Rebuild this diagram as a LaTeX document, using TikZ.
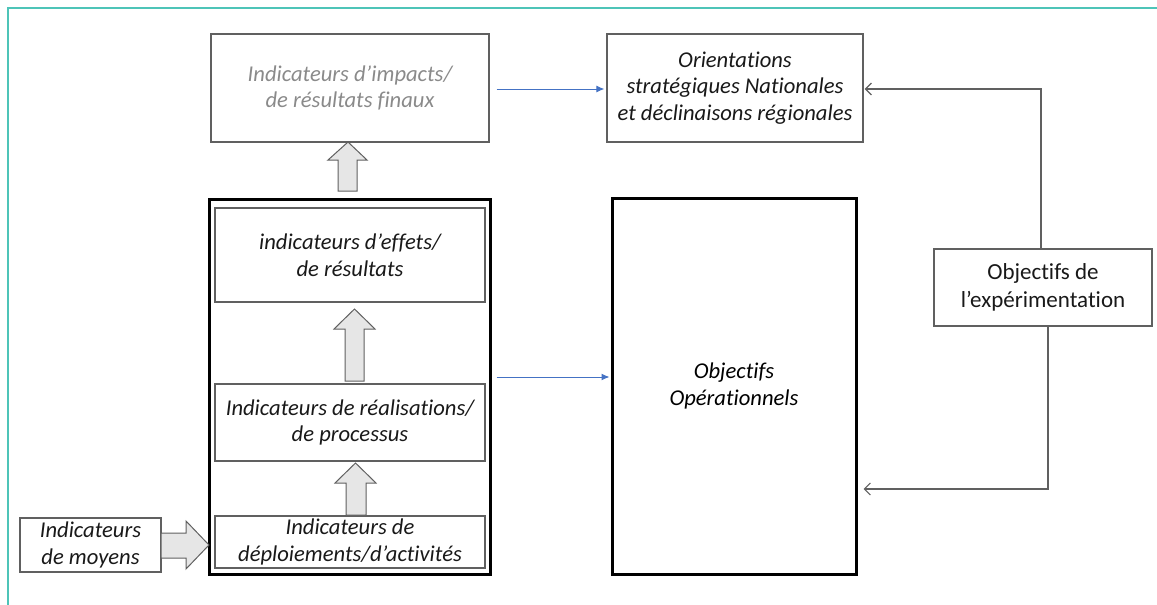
\documentclass[tikz,border=0pt]{standalone}
\usepackage{fontspec}
\setmainfont{Carlito}[Ligatures={NoCommon}]
\usetikzlibrary{arrows.meta,calc}
\definecolor{bordc}{HTML}{4DC4B8}
\definecolor{boxline}{HTML}{606060}
\definecolor{blueln}{HTML}{4472C4}
\definecolor{graytxt}{HTML}{8A8A8A}
\definecolor{blkfill}{HTML}{E6E6E6}
\tikzset{
  box/.style={draw=boxline, line width=1.2pt, inner sep=0pt, align=center,
    font=\itshape\fontsize{22.6}{26.5}\selectfont, text=black!90},
  thickbox/.style={draw=black, line width=3pt, inner sep=0pt},
  blueline/.style={draw=blueln, line width=1pt, -{Latex[length=8pt,width=7pt]}},
  grayline/.style={draw=boxline, line width=1.2pt, -{Straight Barb[length=6pt,width=12pt]}},
  blk/.style={draw=boxline, fill=blkfill, line width=1pt, line join=miter}
}
\begin{document}
\begin{tikzpicture}[x=1pt,y=-1pt]
\useasboundingbox (0,0) rectangle (1157,605);
\draw[bordc, line width=2pt] (8,605) -- (8,8) -- (1157,8);

\node[box, text=graytxt, minimum width=278pt, minimum height=108pt] (impacts) at (350,88)
  {Indicateurs d’impacts/\\de résultats finaux};
\node[box, minimum width=256pt, minimum height=108pt] (orient) at (735,88)
  {Orientations\\stratégiques Nationales\\et déclinaisons régionales};
\node[thickbox, minimum width=281pt, minimum height=375pt] (outer) at (349.5,386.5) {};
\node[box, minimum width=270pt, minimum height=94pt] (effets) at (350,255)
  {indicateurs d’effets/\\de résultats};
\node[box, minimum width=270pt, minimum height=77pt] (real) at (350,422.5)
  {Indicateurs de réalisations/\\de processus};
\node[box, minimum width=270pt, minimum height=52pt] (depl) at (350,542)
  {Indicateurs de\\déploiements/d’activités};
\node[box, minimum width=141pt, minimum height=54pt] (moyens) at (90.5,545)
  {Indicateurs\\de moyens};
\node[thickbox, minimum width=244pt, minimum height=376pt, align=center,
  font=\itshape\fontsize{22.6}{26.5}\selectfont] (op) at (734,386)
  {Objectifs\\Opérationnels};
\node[box, font=\fontsize{23}{28}\selectfont, minimum width=218pt, minimum height=77pt] (exp) at (1043,287.5)
  {Objectifs de\\l’expérimentation};

% blue connectors
\draw[blueline, shorten <=7pt, shorten >=2pt] (impacts.east |- 0,89) -- (orient.west |- 0,89);
\draw[blueline, shorten <=5pt, shorten >=1pt] (outer.east |- 0,377) -- (op.west |- 0,377);

% gray connectors
\coordinate (c1) at ($(exp.north)+(-2,0)$);
\draw[grayline, shorten >=1pt] (c1) -- (c1 |- 0,89) -- (orient.east |- 0,89);
\coordinate (c2) at ($(exp.south)+(5,0)$);
\draw[grayline, shorten >=6pt] (c2) -- (c2 |- 0,489) -- (op.east |- 0,489);

% block arrows
\draw[blk] (348,142) -- (367,160) -- (357,160) -- (357,191) -- (338,191) -- (338,160) -- (328,160) -- cycle;
\draw[blk] (354.5,309) -- (375,329) -- (364,329) -- (364,381) -- (345,381) -- (345,329) -- (334,329) -- cycle;
\draw[blk] (355.5,463) -- (376,483) -- (366,483) -- (366,515) -- (346,515) -- (346,483) -- (335,483) -- cycle;
\draw[blk] (209,545) -- (186,569) -- (186,558) -- (161,558) -- (161,533) -- (186,533) -- (186,521) -- cycle;
\end{tikzpicture}
\end{document}
